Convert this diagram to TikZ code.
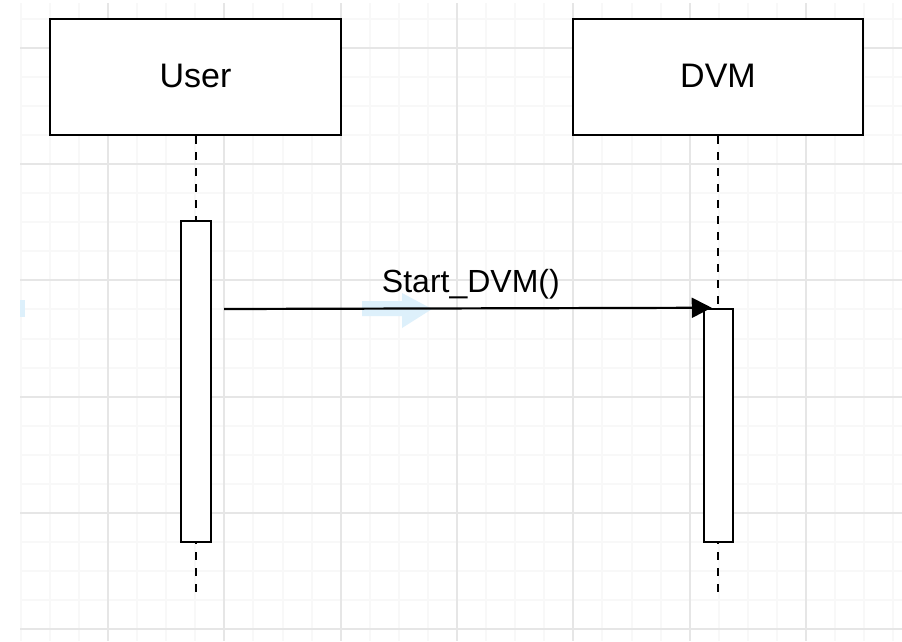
\documentclass[tikz,border=0pt]{standalone}
\usepackage{fontspec}
\setmainfont{Liberation Sans}
\usetikzlibrary{arrows.meta}
\definecolor{hintblue}{HTML}{DDF0FB}
\definecolor{minorc}{HTML}{F8F8F8}
\definecolor{majorc}{HTML}{E6E6E6}
\begin{document}
\begin{tikzpicture}[x=1pt,y=-1pt,
  minorgrid/.style={draw=minorc, line width=2pt},
  majorgrid/.style={draw=majorc, line width=2pt},
  actor/.style={draw=black, fill=white, line width=2.5pt, inner sep=0pt, minimum width=291pt, minimum height=116pt, font=\fontsize{34}{40}\selectfont},
  activation/.style={draw=black, fill=white, line width=2.5pt, inner sep=0pt, minimum width=30pt},
  lifeline/.style={draw=black, line width=2pt, dash pattern=on 8pt off 8pt},
  msgline/.style={draw=black, line width=2.2pt, -{Triangle[length=20pt,width=20pt]}},
  msglabel/.style={font=\fontsize{32}{38}\selectfont, anchor=base, inner sep=0pt},
  hint/.style={fill=hintblue, draw=none}
]
\useasboundingbox (0,0) rectangle (902,641);
\fill[white] (0,0) rectangle (902,641);
% grid
\begin{scope}
\clip (20,3) rectangle (902,641);
\foreach \k in {0,...,31} {
  \draw[minorgrid] ({-8.3+29.083*\k},0) -- ({-8.3+29.083*\k},641);
}
\foreach \k in {0,...,22} {
  \draw[minorgrid] (0,{-10.1+29.05*\k}) -- (902,{-10.1+29.05*\k});
}
\foreach \k in {0,...,8} {
  \draw[majorgrid] ({-8.3+116.33*\k},0) -- ({-8.3+116.33*\k},641);
}
\foreach \k in {0,...,6} {
  \draw[majorgrid] (0,{48+116.2*\k}) -- (902,{48+116.2*\k});
}
\end{scope}
% faint hints
\fill[hint] (20,300) rectangle (25,317);
\fill[hint] (362,301) -- (402,301) -- (402,293) -- (432,309) -- (402,328) -- (402,316) -- (362,316) -- cycle;
% actors
\node[actor] (user) at (195.5,77) {\raisebox{2pt}{User}};
\node[actor, minimum width=290pt] (dvm) at (718,77) {\raisebox{2pt}{DVM}};
\coordinate (uend) at (195.5,598);
\coordinate (dend) at (718,598);
\draw[lifeline] (user.south) -- (uend);
\draw[lifeline] (dvm.south) -- (dend);
% activations
\node[activation, minimum height=321pt] (uact) at (196,381.5) {};
\node[activation, minimum width=29pt, minimum height=233pt] (dact) at (718.5,425.5) {};
% message
\coordinate (m1) at (224,309);
\draw[msgline] (m1) -- ([xshift=9pt]dact.north west) node[msglabel, pos=0.5, yshift=16pt, xshift=3pt] {Start\_DVM()};
\end{tikzpicture}
\end{document}
